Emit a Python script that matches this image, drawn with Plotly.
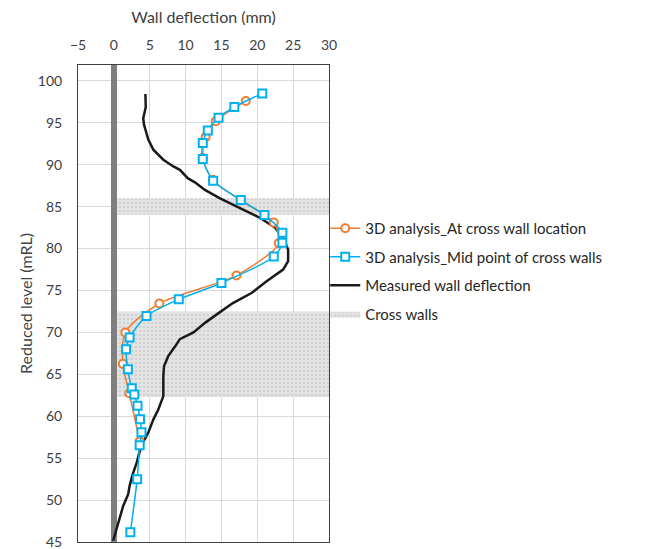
import plotly.graph_objects as go

# ---- data ----
orange_x = [18.4, 14.2, 12.8, 12.4, 13.8, 17.7, 22.3, 23.0, 17.1, 6.35, 1.6, 1.25, 2.15, 3.6]
orange_y = [97.6, 95.2, 93.3, 90.8, 88.2, 85.75, 83.1, 80.65, 76.8, 73.45, 70.0, 66.25, 62.75, 57.0]

blue_x = [20.7, 16.8, 14.6, 13.1, 12.4, 12.4, 13.85, 17.7, 21.0, 23.5, 23.5, 22.3, 15.0, 9.05,
          4.55, 2.2, 1.7, 1.95, 2.5, 2.85, 3.3, 3.65, 3.85, 3.6, 3.25, 2.3]
blue_y = [98.5, 96.9, 95.6, 94.1, 92.6, 90.7, 88.1, 85.8, 84.0, 81.9, 80.7, 79.05, 75.9, 73.95,
          71.95, 69.4, 68.0, 65.6, 63.35, 62.6, 61.25, 59.65, 58.1, 56.55, 52.5, 46.15]

meas_x = [4.4, 4.45, 4.1, 4.2, 4.8, 5.5, 6.9, 8.3, 9.2, 10.3, 11.3, 12.7, 14.8, 17.6, 20.4, 22.5,
          23.6, 24.3, 24.3, 23.6, 21.3, 19.2, 16.6, 14.6, 12.8, 11.1, 9.2, 8.6, 7.6, 7.0, 6.9,
          6.9, 6.2, 5.5, 4.8, 4.1, 3.6, 3.2, 2.6, 2.2, 2.0, 1.3, 0.6, -0.1]
meas_y = [98.45, 96.9, 95.55, 94.8, 93.0, 91.8, 90.6, 89.8, 89.4, 88.4, 87.9, 87.0, 86.0, 84.8,
          83.65, 82.5, 81.3, 79.9, 78.5, 77.5, 76.1, 74.7, 73.5, 72.3, 71.2, 70.0, 69.2, 68.4,
          67.2, 66.0, 64.8, 62.4, 60.8, 59.6, 58.05, 56.9, 55.8, 54.5, 53.0, 51.7, 50.7, 49.3,
          47.3, 45.15]

# cross wall bands (x from, x to, level from, level to)
band_x0 = [0.45, 0.45]
band_x1 = [30, 30]
band_y0 = [84.0, 62.3]
band_y1 = [86.0, 72.5]

x_ticks = [-5, 0, 5, 10, 15, 20, 25, 30]
y_ticks = [45, 50, 55, 60, 65, 70, 75, 80, 85, 90, 95, 100]

FONT = "Lato"
TXT = "#404040"

# polygon for bands
bx, by = [], []
for a, b, c, d in zip(band_x0, band_x1, band_y0, band_y1):
    bx += [a, b, b, a, a, None]
    by += [c, c, d, d, c, None]

fig = go.Figure()
fig.add_trace(go.Scatter(
    x=bx, y=by, mode="lines", fill="toself", name="Cross walls",
    line=dict(width=0, color="rgba(0,0,0,0)"),
    fillcolor="#e2e2e2",
    fillpattern=dict(shape=".", fgcolor="#bdbdbd", bgcolor="#e4e4e4", size=4, solidity=0.3),
    hoverinfo="skip", legendrank=4, legendgroup="d"))
fig.add_trace(go.Scatter(
    x=meas_x, y=meas_y, mode="lines", name="Measured wall deflection",
    line=dict(color="#1a1a1a", width=2.5), legendrank=3, legendgroup="c"))
fig.add_trace(go.Scatter(
    x=orange_x, y=orange_y, mode="lines+markers", name="3D analysis_At cross wall location",
    line=dict(color="#ED7D31", width=1.5, shape="spline", smoothing=0.8),
    marker=dict(symbol="circle", size=8, color="white", line=dict(color="#ED7D31", width=2)),
    legendrank=1, legendgroup="a"))
fig.add_trace(go.Scatter(
    x=blue_x, y=blue_y, mode="lines+markers", name="3D analysis_Mid point of cross walls",
    line=dict(color="#00B0F0", width=1.5, shape="spline", smoothing=0.8),
    marker=dict(symbol="square", size=8, color="white", line=dict(color="#00B0F0", width=2)),
    legendrank=2, legendgroup="b"))

fig.update_layout(
    width=653, height=549,
    margin=dict(l=78, r=324, t=65, b=7, autoexpand=False),
    paper_bgcolor="white", plot_bgcolor="white",
    font=dict(family=FONT, size=14, color=TXT),
    showlegend=True,
    legend=dict(x=0.985, xanchor="left", y=0.692, yanchor="top",
                font=dict(family=FONT, size=15, color="#262626"),
                tracegroupgap=6, bgcolor="rgba(0,0,0,0)", itemwidth=30),
)
fig.update_xaxes(
    range=[-5, 30], tickvals=x_ticks, side="top", automargin=False,
    showgrid=True, gridcolor="#d9d9d9", gridwidth=1,
    zeroline=True, zerolinecolor="#7f7f7f", zerolinewidth=6,
    showline=True, linecolor="#404040", linewidth=1, mirror=True,
    ticks="", ticklabelstandoff=8,
    tickfont=dict(family=FONT, size=14, color=TXT),
    title=dict(text="Wall deflection (mm)", font=dict(family=FONT, size=16, color=TXT), standoff=8),
)
fig.update_yaxes(
    range=[45, 101.9], tickvals=y_ticks, automargin=False,
    showgrid=True, gridcolor="#d9d9d9", gridwidth=1, zeroline=False,
    showline=True, linecolor="#404040", linewidth=1, mirror=True,
    ticks="", ticklabelstandoff=12, ticklabeloverflow="allow",
    tickfont=dict(family=FONT, size=14, color=TXT),
    title=dict(text="Reduced level (mRL)", font=dict(family=FONT, size=16, color=TXT), standoff=1),
)

fig.write_html("out.html")
